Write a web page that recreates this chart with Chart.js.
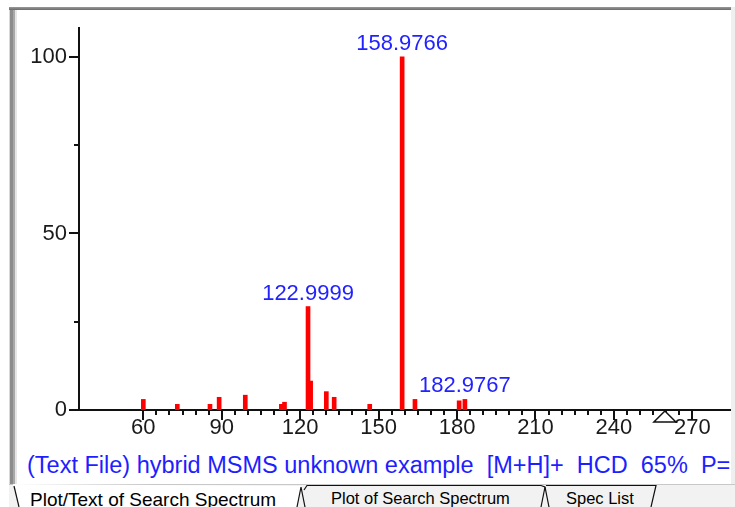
<!DOCTYPE html>
<html><head><meta charset="utf-8">
<script src="https://cdn.jsdelivr.net/npm/chart.js@4"></script>
<style>
html,body{margin:0;padding:0;background:#fff;width:735px;height:507px;overflow:hidden;position:relative;font-family:"Liberation Sans",Arial,sans-serif}
#leftBorder{position:absolute;left:9px;top:7px;width:8px;height:477px;background:linear-gradient(to right,#d8d8d8 0,#d8d8d8 1px,#8c8c8c 1px,#8c8c8c 4px,#a8a8a8 4px,#a8a8a8 6px,#e6e6e6 6px)}
#topBorder{position:absolute;left:9px;top:7px;width:723px;height:3px;background:linear-gradient(#9a9a9a,#6a6a6a)}
#rightStrip{position:absolute;left:731px;top:7px;width:4px;height:477px;background:#efefef}
#caption{position:absolute;left:27px;top:452px;width:704px;overflow:hidden;white-space:pre;color:#1e1eff;font-size:23.5px;line-height:27px}
#tabs{position:absolute;left:0;top:484px}
#chart{position:absolute;left:0;top:0}
</style>
</head><body>
<div id="leftBorder"></div>
<div id="topBorder"></div>
<div id="rightStrip"></div>
<canvas id="chart" width="735" height="450"></canvas>
<div id="caption">(Text File) hybrid MSMS unknown example  [M+H]+  HCD  65%  P=</div>
<svg id="tabs" width="735" height="23" xmlns="http://www.w3.org/2000/svg">
  <rect x="9" y="0" width="726" height="23" fill="#f2f2f2"/>
  <line x1="9" y1="0.5" x2="735" y2="0.5" stroke="#c8c8c8"/>
  <polygon points="13,0 19,23 297,23 301,2" fill="#ffffff"/>
  <polyline points="14,2 19,23" stroke="#111" fill="none" stroke-width="1.2"/>
  <polyline points="297,23 301,3 305,23" stroke="#111" fill="none" stroke-width="1.2"/>
  <polyline points="304,6 307,1.5 541,1.5" stroke="#111" fill="none" stroke-width="1.2"/>
  <polyline points="541,1.5 545,3 549,23" stroke="#111" fill="none" stroke-width="1.2"/>
  <polyline points="545,3 541,23" stroke="#111" fill="none" stroke-width="1.2"/>
  <polyline points="546,1.5 656,1.5 651,23" stroke="#111" fill="none" stroke-width="1.2"/>
  <text x="30" y="22" font-family="Liberation Sans, Arial, sans-serif" font-size="19" fill="#000">Plot/Text of Search Spectrum</text>
  <text x="331" y="20" font-family="Liberation Sans, Arial, sans-serif" font-size="16.5" fill="#000">Plot of Search Spectrum</text>
  <text x="566" y="20" font-family="Liberation Sans, Arial, sans-serif" font-size="16.5" fill="#000">Spec List</text>
</svg>
<script>
// ---- data ----
const mz        = [60, 73, 85.5, 89, 99, 112.8, 114, 123, 124, 130, 133, 146.6, 159, 163.9, 180.8, 183];
const intensity = [3.0, 1.6, 1.6, 3.6, 4.2, 1.6, 2.2, 29.3, 8.2, 5.2, 3.6, 1.6, 100, 3.0, 2.6, 3.0];
const labelMz   = [123, 159, 183];
const labelText = ['122.9999', '158.9766', '182.9767'];
const xTickLabels = [60, 90, 120, 150, 180, 210, 240, 270];
const xMinorStep = 5;
const yTickValues = [0, 25, 50, 75, 100];
const yTickLabels = [0, 50, 100];
const precursorMz = 259.5;

const xRange = [35.4, 284.4];
const yRange = [0, 108.2];

const xTickValues = [];
for (let v = xTickLabels[0]; v <= xTickLabels[xTickLabels.length - 1]; v += xMinorStep) xTickValues.push(v);

const decor = {
  id: 'decor',
  afterDatasetsDraw(chart) {
    const {ctx, chartArea} = chart;
    const xs = chart.scales.x, ys = chart.scales.y;
    ctx.save();
    ctx.strokeStyle = '#111';
    ctx.lineWidth = 2;
    xs.ticks.forEach(t => {
      const px = Math.round(xs.getPixelForValue(t.value));
      const len = xTickLabels.includes(t.value) ? 10 : 5;
      ctx.beginPath(); ctx.moveTo(px, chartArea.bottom); ctx.lineTo(px, chartArea.bottom + len); ctx.stroke();
    });
    ys.ticks.forEach(t => {
      const py = Math.round(ys.getPixelForValue(t.value));
      const len = yTickLabels.includes(t.value) ? 10 : 5;
      ctx.beginPath(); ctx.moveTo(chartArea.left, py); ctx.lineTo(chartArea.left - len, py); ctx.stroke();
    });
    // peak labels
    ctx.fillStyle = '#2222ff';
    ctx.font = '22px "Liberation Sans", Arial, sans-serif';
    ctx.textAlign = 'center';
    ctx.textBaseline = 'alphabetic';
    labelMz.forEach((m, i) => {
      const k = mz.indexOf(m);
      ctx.fillText(labelText[i], xs.getPixelForValue(mz[k]), ys.getPixelForValue(intensity[k]) - 7);
    });
    // precursor marker
    const pX = xs.getPixelForValue(precursorMz);
    const b = chartArea.bottom;
    ctx.beginPath();
    ctx.moveTo(pX, b + 1); ctx.lineTo(pX - 11, b + 12); ctx.lineTo(pX + 11, b + 12); ctx.closePath();
    ctx.fillStyle = '#fff'; ctx.fill();
    ctx.lineWidth = 1.5; ctx.strokeStyle = '#111'; ctx.stroke();
    ctx.restore();
  }
};

new Chart(document.getElementById('chart'), {
  type: 'bar',
  data: {
    datasets: [{
      data: mz.map((m, i) => ({x: m, y: intensity[i]})),
      backgroundColor: '#ff0000',
      borderWidth: 0,
      barThickness: 4
    }]
  },
  options: {
    responsive: false,
    devicePixelRatio: 1,
    animation: false,
    layout: {padding: {left: 17, top: 28, right: 5, bottom: 0}},
    plugins: {legend: {display: false}, tooltip: {enabled: false}},
    scales: {
      x: {
        type: 'linear',
        min: xRange[0], max: xRange[1],
        offset: false,
        grid: {display: false, drawTicks: false},
        border: {display: true, color: '#111', width: 2},
        afterBuildTicks: s => { s.ticks = xTickValues.map(v => ({value: v})); },
        afterFit: s => { s.height = 40; },
        ticks: {
          autoSkip: false, maxRotation: 0, padding: 5,
          color: '#1a1a1a',
          font: {family: '"Liberation Sans", Arial, sans-serif', size: 22},
          callback: v => xTickLabels.includes(v) ? String(v) : ''
        }
      },
      y: {
        min: yRange[0], max: yRange[1],
        grid: {display: false, drawTicks: false},
        border: {display: true, color: '#111', width: 2},
        afterBuildTicks: s => { s.ticks = yTickValues.map(v => ({value: v})); },
        afterFit: s => { s.width = 62; },
        ticks: {
          autoSkip: false, padding: 12,
          color: '#1a1a1a',
          font: {family: '"Liberation Sans", Arial, sans-serif', size: 22},
          callback: v => yTickLabels.includes(v) ? String(v) : ''
        }
      }
    }
  },
  plugins: [decor]
});
</script>
</body></html>
